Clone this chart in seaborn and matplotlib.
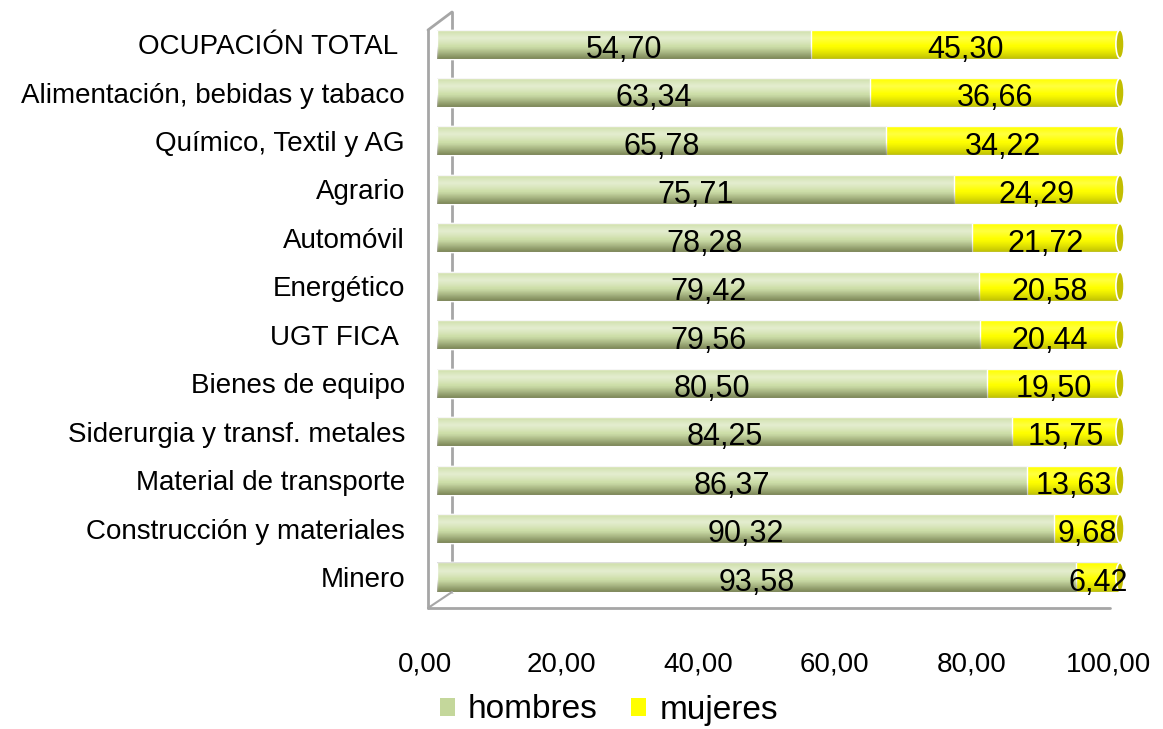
import numpy as np
import pandas as pd
import matplotlib
matplotlib.use("Agg")
import matplotlib.pyplot as plt
import matplotlib.transforms as mtransforms
from matplotlib.patches import Patch, Ellipse
from matplotlib.lines import Line2D
import seaborn as sns

categories = ["OCUPACIÓN TOTAL ", "Alimentación, bebidas y tabaco", "Químico, Textil y AG",
              "Agrario", "Automóvil", "Energético", "UGT FICA ", "Bienes de equipo",
              "Siderurgia y transf. metales", "Material de transporte",
              "Construcción y materiales", "Minero"]
hombres = [54.70, 63.34, 65.78, 75.71, 78.28, 79.42, 79.56, 80.50, 84.25, 86.37, 90.32, 93.58]
mujeres = [45.30, 36.66, 34.22, 24.29, 21.72, 20.58, 20.44, 19.50, 15.75, 13.63, 9.68, 6.42]
xticks = [0, 20, 40, 60, 80, 100]

df = pd.DataFrame({"cat": categories, "hombres": hombres, "mujeres": mujeres})
df["total"] = df["hombres"] + df["mujeres"]

sns.set_theme(style="white")
plt.rcParams["font.family"] = ["Liberation Sans", "DejaVu Sans"]

GREEN = "#D0E1AC"
YELLOW = "#FFFF00"
GRAY = "#A6A6A6"

W, H = 1163, 729
fig = plt.figure(figsize=(W / 100, H / 100), dpi=100)

def fx(px):
    return px / W

def fy(py):
    return 1 - py / H

ax = fig.add_axes([fx(437), fy(608), (1120 - 437) / W, (608 - 15) / H])
ax.patch.set_alpha(0)

BAR_W = 0.6
sns.barplot(data=df, x="total", y="cat", orient="h", color=YELLOW, width=BAR_W,
            saturation=1, ax=ax, edgecolor="white", linewidth=1.0)
sns.barplot(data=df, x="hombres", y="cat", orient="h", color=GREEN, width=BAR_W,
            saturation=1, ax=ax, edgecolor="white", linewidth=1.0)

# cylinder shading over each bar (row 0 = visual top)
n = 80
t = np.linspace(0, 1, n)
rgba = np.zeros((n, 1, 4))
light = np.clip(1 - np.abs(t - 0.3) / 0.25, 0, 1) * 0.25
dark = np.clip((t - 0.55) / 0.45, 0, 1) ** 1.3 * 0.32
edge_top = (t < 0.05) * 0.12
for k in range(n):
    if dark[k] > 0:
        rgba[k, 0, :3] = (0.2, 0.22, 0.05)
        rgba[k, 0, 3] = dark[k]
    elif edge_top[k] > 0:
        rgba[k, 0, :3] = (0.45, 0.45, 0.45)
        rgba[k, 0, 3] = edge_top[k]
    else:
        rgba[k, 0, :3] = (1, 1, 1)
        rgba[k, 0, 3] = light[k]
for p in list(ax.patches):
    x0, y0 = p.get_x(), p.get_y()
    w, h = p.get_width(), p.get_height()
    im = ax.imshow(rgba, extent=(x0, x0 + w, y0 + h, y0), aspect="auto",
                   origin="upper", zorder=p.get_zorder() + 0.1, interpolation="bilinear")
    im.set_clip_path(p)

# end caps of the cylinders
for i, tot in enumerate(df["total"]):
    ax.add_patch(Ellipse((tot, i), width=1.2, height=BAR_W * 0.98, facecolor="#C2BE00",
                         edgecolor="white", linewidth=1.2, zorder=5, clip_on=False))

ax.set_xlim(0, 100)
ax.set_ylim(11.64, -0.6)
ax.set_xticks(xticks)
ax.set_xticklabels([f"{v:.2f}".replace(".", ",") for v in xticks], fontsize=20, color="black")
ax.tick_params(axis="x", length=0, pad=31)
ax.tick_params(axis="y", length=0, pad=23, labelsize=20, labelcolor="black")
offset = mtransforms.ScaledTranslation(-12 / 100, 0, fig.dpi_scale_trans)
for lab in ax.get_xticklabels():
    lab.set_transform(lab.get_transform() + offset)
ax.set_xlabel("")
ax.set_ylabel("")
for s in ax.spines.values():
    s.set_visible(False)

# value labels
for i, (h, m) in enumerate(zip(hombres, mujeres)):
    ax.text(h / 2, i + 0.12, f"{h:.2f}".replace(".", ","), ha="center", va="center",
            fontsize=22, color="black", zorder=10)
    ax.text(h + m / 2, i + 0.12, f"{m:.2f}".replace(".", ","), ha="center", va="center",
            fontsize=22, color="black", zorder=10)

# pseudo-3D frame
def fline(xs, ys, lw=2, z=3):
    fig.add_artist(Line2D([fx(v) for v in xs], [fy(v) for v in ys], color=GRAY, lw=lw, zorder=z))

fline([452, 452], [12, 592], lw=2, z=-1)      # back wall edge (behind bars)
fline([428, 428], [30, 608])                  # front left edge
fline([428, 452], [30, 12])                   # top diagonal
fline([428, 452], [608, 592], lw=1.5)         # bottom diagonal
fline([428, 1110], [608, 608])                # floor

handles = [Patch(facecolor="#C4D79B", edgecolor="none", label="hombres"),
           Patch(facecolor=YELLOW, edgecolor="none", label="mujeres")]
fig.legend(handles=handles, loc="center", bbox_to_anchor=(fx(609), fy(710)), ncol=2,
           frameon=False, fontsize=24, handlelength=0.45, handleheight=0.45, handletextpad=0.4,
           columnspacing=1.0, labelcolor="black")

fig.savefig("out.png", dpi=100)
